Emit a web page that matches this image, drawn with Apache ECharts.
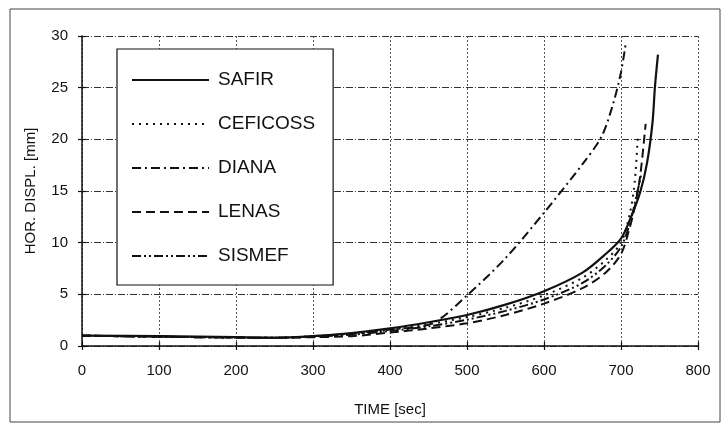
<!DOCTYPE html>
<html>
<head>
<meta charset="utf-8">
<script src="https://cdn.jsdelivr.net/npm/echarts@6/dist/echarts.min.js"></script>
<style>
html,body{margin:0;padding:0;background:#fff;}
#c{width:728px;height:429px;}
</style>
</head>
<body>
<div id="c"></div>
<script>
// ---- data ----
const xTicks = [0, 100, 200, 300, 400, 500, 600, 700, 800];
const yTicks = [0, 5, 10, 15, 20, 25, 30];
const seriesNames = ['SAFIR', 'CEFICOSS', 'DIANA', 'LENAS', 'SISMEF'];

const SAFIR = [[0,1.0],[100,0.95],[200,0.85],[250,0.8],[300,0.95],[350,1.25],[400,1.7],[450,2.3],[500,3.0],[550,4.0],[600,5.3],[650,7.1],[680,8.9],[700,10.4],[712,12.3],[725,14.9],[734,17.8],[741,21.7],[744,25],[748,28.2]];
const CEFICOSS = [[0,1.0],[250,0.8],[300,0.9],[350,1.15],[400,1.55],[450,2.1],[500,2.8],[550,3.7],[600,4.9],[650,6.6],[680,8.3],[700,10.0],[712,13.0],[718,16.0],[722,20.5]];
const DIANA = [[0,1.0],[250,0.8],[300,0.95],[350,1.2],[400,1.6],[455,2.2],[500,4.9],[550,8.5],[600,12.9],[650,17.6],[675,20.3],[690,23.5],[700,26.5],[706,29.2]];
const LENAS = [[0,1.0],[250,0.8],[300,0.85],[350,0.95],[400,1.3],[450,1.7],[500,2.2],[550,3.0],[600,4.1],[650,5.6],[680,7.1],[700,8.9],[710,11.1],[718,13.5],[725,16.5],[732,21.5]];
const SISMEF = [[0,1.0],[250,0.8],[300,0.9],[350,1.1],[400,1.45],[450,1.9],[500,2.55],[550,3.4],[600,4.5],[650,6.1],[680,7.8],[700,9.6],[712,12.0],[720,14.5],[726,16.5]];

const seriesData = [SAFIR, CEFICOSS, DIANA, LENAS, SISMEF];
const dashTypes = ['solid', [2, 5], [9, 4, 2, 4], [9, 5], [9, 3, 2, 3, 2, 3]];

const FONT = 'Liberation Sans, Arial, sans-serif';
const chart = echarts.init(document.getElementById('c'), null, {renderer: 'canvas'});

const series = seriesNames.map((n, i) => ({
  name: n,
  type: 'line',
  data: seriesData[i],
  showSymbol: false,
  symbol: 'none',
  smooth: 0.3,
  lineStyle: {color: '#111', width: i === 0 ? 2.2 : 2, type: dashTypes[i]},
  itemStyle: {color: '#111'},
  z: 5
}));

chart.setOption({
  animation: false,
  backgroundColor: '#fff',
  grid: {left: 82, right: 30, top: 36, bottom: 83, containLabel: false},
  graphic: [{
    type: 'rect',
    shape: {x: 10, y: 9, width: 710, height: 413},
    style: {fill: 'none', stroke: '#444', lineWidth: 1},
    silent: true, z: 0
  }],
  legend: {
    orient: 'vertical',
    left: 117, top: 49,
    backgroundColor: '#fff',
    borderColor: '#111', borderWidth: 1.2,
    padding: [21, 18, 19, 14],
    itemWidth: 77, itemHeight: 14, itemGap: 24,
    itemStyle: {opacity: 0},
    textStyle: {fontFamily: FONT, fontSize: 19, lineHeight: 20, color: '#111', padding: [0, 0, 0, 4]},
    data: seriesNames,
    z: 10
  },
  xAxis: [{
    type: 'value', min: 0, max: 800, interval: 100,
    name: 'TIME [sec]', nameLocation: 'middle', nameGap: 56,
    nameTextStyle: {fontFamily: FONT, fontSize: 15, color: '#111'},
    axisLine: {show: true, onZero: false, lineStyle: {color: '#111', width: 1.5}},
    axisTick: {show: true, length: 4, lineStyle: {color: '#111', width: 1.2}},
    axisLabel: {fontFamily: FONT, fontSize: 15, color: '#111', margin: 17,
      formatter: v => xTicks.includes(v) ? String(v) : ''},
    splitLine: {show: true, lineStyle: {color: '#555', width: 1, type: [2, 2]}}
  }, {
    type: 'value', min: 0, max: 800, interval: 100, position: 'bottom',
    axisLine: {show: false}, axisLabel: {show: false}, splitLine: {show: false},
    axisTick: {show: true, inside: true, length: 4, lineStyle: {color: '#111', width: 1.2}}
  }],
  yAxis: [{
    type: 'value', min: 0, max: 30, interval: 5,
    name: 'HOR. DISPL. [mm]', nameLocation: 'middle', nameGap: 44,
    nameTextStyle: {fontFamily: FONT, fontSize: 15, color: '#111'},
    axisLine: {show: true, onZero: false, lineStyle: {color: '#111', width: 1.5}},
    axisTick: {show: true, length: 4, lineStyle: {color: '#111', width: 1.2}},
    axisLabel: {fontFamily: FONT, fontSize: 15, color: '#111', margin: 14,
      formatter: v => yTicks.includes(v) ? String(v) : ''},
    splitLine: {show: true, lineStyle: {color: '#333', width: 1.1, type: [7, 2, 1, 2]}}
  }, {
    type: 'value', min: 0, max: 30, interval: 5, position: 'left',
    axisLine: {show: false}, axisLabel: {show: false}, splitLine: {show: false},
    axisTick: {show: true, inside: true, length: 4, lineStyle: {color: '#111', width: 1.2}}
  }],
  series: series
});
</script>
</body>
</html>
